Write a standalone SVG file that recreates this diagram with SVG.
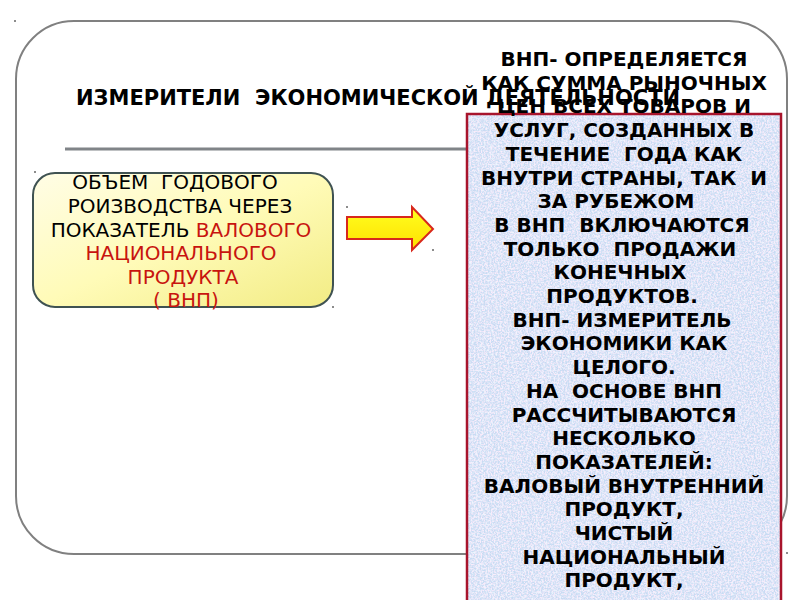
<svg xmlns="http://www.w3.org/2000/svg" width="800" height="600" viewBox="0 0 800 600">
  <defs>
    <style>
      .frame { fill: #ffffff; stroke: #808080; stroke-width: 2; }
      .rule { stroke: #808488; stroke-width: 3; }
      .title { font-family: "DejaVu Sans", "Liberation Sans", sans-serif; font-weight: bold; font-size: 21px; fill: #000; white-space: pre; }
      .ytxt { font-family: "DejaVu Sans", "Liberation Sans", sans-serif; font-size: 20px; fill: #000; text-anchor: middle; white-space: pre; }
      .red { fill: #c8140f; }
      .btxt { font-family: "DejaVu Sans", "Liberation Sans", sans-serif; font-weight: bold; font-size: 20px; fill: #000; text-anchor: middle; white-space: pre; }
      .dot { fill: #666; }
    </style>
    <linearGradient id="yel" x1="0" y1="0" x2="1" y2="1">
      <stop offset="0" stop-color="#fffde6"/>
      <stop offset="0.5" stop-color="#fffbb8"/>
      <stop offset="1" stop-color="#f2ec84"/>
    </linearGradient>
    <linearGradient id="arr" x1="0" y1="0" x2="0" y2="1">
      <stop offset="0" stop-color="#ffff20"/>
      <stop offset="1" stop-color="#ffe000"/>
    </linearGradient>
    <filter id="tex" x="0" y="0" width="100%" height="100%">
      <feTurbulence type="fractalNoise" baseFrequency="0.7" numOctaves="3" seed="4" result="n"/>
      <feColorMatrix in="n" type="matrix" values="0 0 0 0 0.96  0 0 0 0 0.84  0 0 0 0 0.97  0 0 0 3 -1.25" result="pink"/>
      <feComposite in="pink" in2="SourceGraphic" operator="in" result="p"/>
      <feTurbulence type="fractalNoise" baseFrequency="0.5" numOctaves="2" seed="9" result="n2"/>
      <feColorMatrix in="n2" type="matrix" values="0 0 0 0 0.86  0 0 0 0 0.93  0 0 0 0 1  0 0 0 3 -1.3" result="lb"/>
      <feComposite in="lb" in2="SourceGraphic" operator="in" result="q"/>
      <feMerge><feMergeNode in="SourceGraphic"/><feMergeNode in="q"/><feMergeNode in="p"/></feMerge>
    </filter>
  </defs>

  <g id="frame">
    <rect class="frame" x="16" y="21" width="771" height="533" rx="58" ry="58"/>
  </g>

  <g id="title">
    <line class="rule" x1="65" y1="149" x2="467" y2="149"/>
    <text class="title" x="76" y="105">ИЗМЕРИТЕЛИ  ЭКОНОМИЧЕСКОЙ ДЕЯТЕЛЬНОСТИ</text>
  </g>

  <g id="node-gnp">
    <rect x="33" y="173" width="300" height="134" rx="22" ry="22" fill="url(#yel)" stroke="#3f5252" stroke-width="2"/>
    <text class="ytxt" x="175" y="189">ОБЪЕМ  ГОДОВОГО</text>
    <text class="ytxt" x="180" y="213">РОИЗВОДСТВА ЧЕРЕЗ</text>
    <text class="ytxt" x="181" y="237">ПОКАЗАТЕЛЬ <tspan class="red">ВАЛОВОГО</tspan></text>
    <text class="ytxt red" x="181" y="260">НАЦИОНАЛЬНОГО</text>
    <text class="ytxt red" x="183" y="284">ПРОДУКТА</text>
    <text class="ytxt red" x="186" y="307">( ВНП)</text>
  </g>

  <g id="connectors">
    <path d="M347,217 L412,217 L412,207 L433,229 L412,250 L412,239 L347,239 Z" fill="url(#arr)" stroke="#d8281c" stroke-width="2" stroke-linejoin="miter"/>
  </g>

  <g id="node-definition">
    <rect x="467" y="114" width="314" height="490" fill="#c8dbf3" filter="url(#tex)"/>
    <rect x="467" y="114" width="314" height="490" fill="none" stroke="#a8142c" stroke-width="2.5"/>
    <text class="btxt" x="624" y="66">ВНП- ОПРЕДЕЛЯЕТСЯ</text>
    <text class="btxt" x="624" y="89.7">КАК СУММА РЫНОЧНЫХ</text>
    <text class="btxt" x="624" y="113.4">ЦЕН ВСЕХ ТОВАРОВ И</text>
    <text class="btxt" x="624" y="137.1">УСЛУГ, СОЗДАННЫХ В</text>
    <text class="btxt" x="624" y="160.8">ТЕЧЕНИЕ  ГОДА КАК</text>
    <text class="btxt" x="624" y="184.5">ВНУТРИ СТРАНЫ, ТАК  И</text>
    <text class="btxt" x="616" y="208.2">ЗА РУБЕЖОМ</text>
    <text class="btxt" x="622" y="231.9">В ВНП  ВКЛЮЧАЮТСЯ</text>
    <text class="btxt" x="620" y="255.6">ТОЛЬКО  ПРОДАЖИ</text>
    <text class="btxt" x="620" y="279.3">КОНЕЧНЫХ</text>
    <text class="btxt" x="622" y="303">ПРОДУКТОВ.</text>
    <text class="btxt" x="622" y="326.7">ВНП- ИЗМЕРИТЕЛЬ</text>
    <text class="btxt" x="624" y="350.4">ЭКОНОМИКИ КАК</text>
    <text class="btxt" x="624" y="374.1">ЦЕЛОГО.</text>
    <text class="btxt" x="624" y="397.8">НА  ОСНОВЕ ВНП</text>
    <text class="btxt" x="624" y="421.5">РАССЧИТЫВАЮТСЯ</text>
    <text class="btxt" x="624" y="445.2">НЕСКОЛЬКО</text>
    <text class="btxt" x="624" y="468.9">ПОКАЗАТЕЛЕЙ:</text>
    <text class="btxt" x="624" y="492.6">ВАЛОВЫЙ ВНУТРЕННИЙ</text>
    <text class="btxt" x="624" y="516.3">ПРОДУКТ,</text>
    <text class="btxt" x="624" y="540">ЧИСТЫЙ</text>
    <text class="btxt" x="624" y="563.7">НАЦИОНАЛЬНЫЙ</text>
    <text class="btxt" x="624" y="587.4">ПРОДУКТ,</text>
  </g>

  <g id="markers">
    <circle class="dot" cx="15" cy="21" r="1"/>
    <circle class="dot" cx="35" cy="172" r="1"/>
    <circle class="dot" cx="333" cy="307" r="1"/>
    <circle class="dot" cx="347" cy="207" r="1"/>
    <circle class="dot" cx="433" cy="250" r="1"/>
    <circle class="dot" cx="787" cy="553" r="1"/>
  </g>
</svg>
